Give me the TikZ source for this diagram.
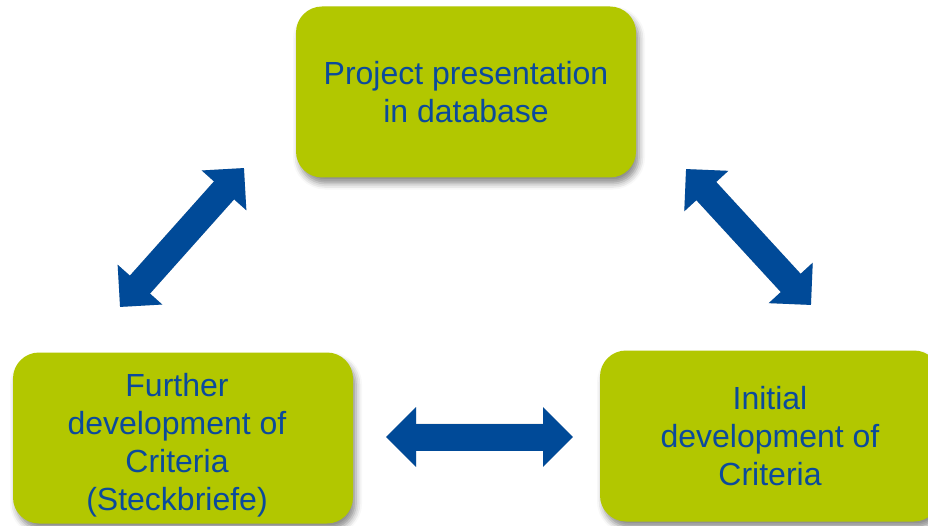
\documentclass[tikz,border=0pt]{standalone}
\usepackage{fontspec}
\setmainfont{Liberation Sans}
\usepackage{xcolor}
\usepackage{tikz}
\usetikzlibrary{arrows.meta,shadows.blur}
\definecolor{boxgreen}{HTML}{B2C700}
\definecolor{textblue}{HTML}{0B4A9C}
\definecolor{arrowblue}{HTML}{004A98}
\tikzset{
  stage/.style={rectangle, rounded corners=26pt, fill=boxgreen, text=textblue,
    minimum width=340pt, minimum height=171pt, align=center, inner sep=0pt,
    font=\fontsize{32}{38}\selectfont,
    blur shadow={shadow xshift=3pt, shadow yshift=-6pt, shadow blur radius=6pt, shadow opacity=45}},
  link/.style={draw=arrowblue, line width=27pt,
    {Triangle[length=30pt,width=58pt]}-{Triangle[length=30pt,width=58pt]}},
  linkshade/.style={link, draw=black}
}
\newcommand{\lpad}{\hbox to 12pt{}}

\begin{document}
\begin{tikzpicture}[x=1pt,y=-1pt]
  \useasboundingbox (0,0) rectangle (928,526);

  \node[stage] (present) at (466,92) {Project presentation\\in database};
  \node[stage] (further) at (183,438)
    {\rule{0pt}{37pt}Further\lpad\\development of\lpad\\Criteria\lpad\\(Steckbriefe)\lpad};
  \node[stage] (initial) at (770,436) {Initial\\development of\\Criteria};

  \coordinate (fl) at (120,307);
  \coordinate (fu) at (244,168);
  \coordinate (iu) at (686,169);
  \coordinate (il) at (811,305);
  \coordinate (hl) at (386,437);
  \coordinate (hr) at (573,437);

  \begin{scope}[transparency group, opacity=.18, shift={(2,4)}]
    \draw[linkshade] (fl) -- (fu);
    \draw[linkshade] (iu) -- (il);
    \draw[linkshade] (hl) -- (hr);
  \end{scope}

  \draw[link] (fl) -- (fu);
  \draw[link] (iu) -- (il);
  \draw[link] (hl) -- (hr);
\end{tikzpicture}
\end{document}
